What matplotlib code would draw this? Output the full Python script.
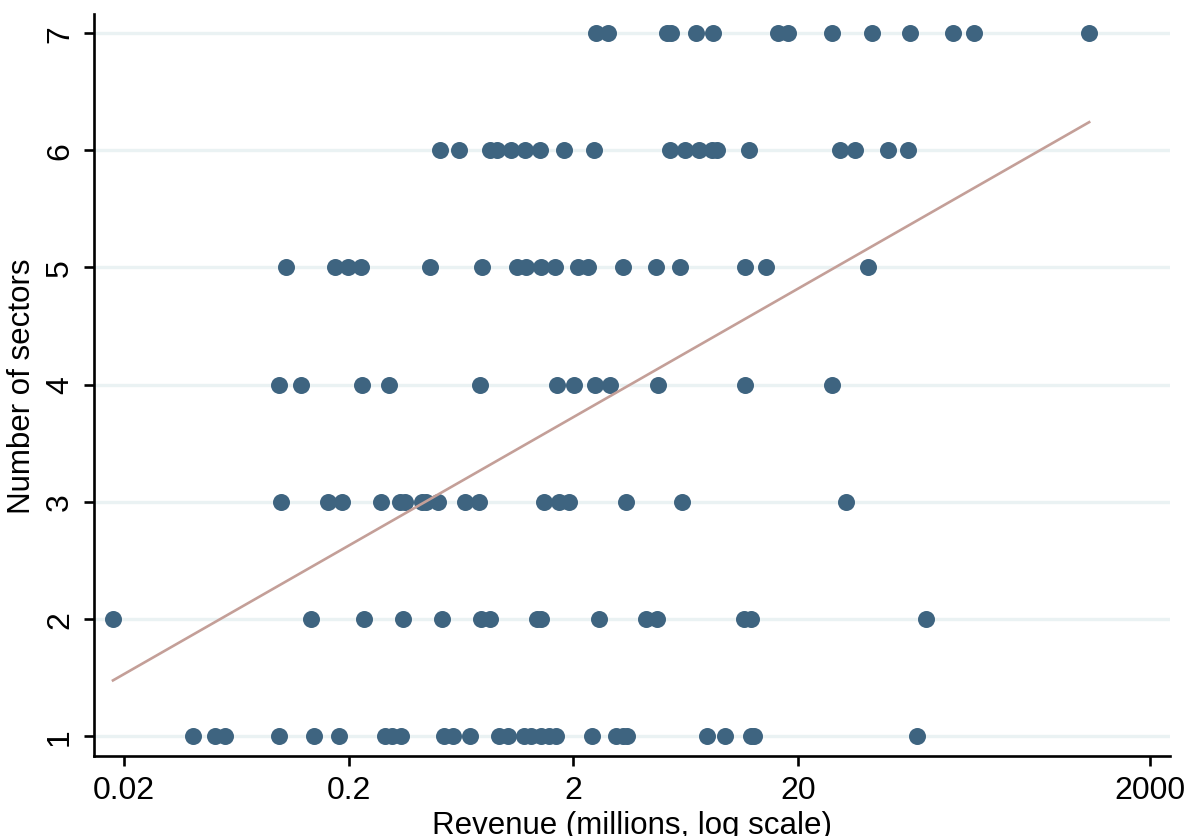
import numpy as np
import matplotlib
matplotlib.use("Agg")
import matplotlib.pyplot as plt

plt.rcParams['font.family'] = ['Liberation Sans', 'DejaVu Sans']

# revenue (millions) of each firm, grouped by its number of sectors
rev_1 = [0.0404, 0.0508, 0.0563, 0.0979, 0.1409, 0.1815, 0.2916, 0.3116, 0.3426,
         0.531, 0.584, 0.690, 0.936, 1.021, 1.206, 1.302, 1.442, 1.558, 1.674,
         2.41, 3.09, 3.31, 3.46, 7.86, 9.50, 12.29, 12.79, 67.4]
rev_2 = [0.01787, 0.1356, 0.2344, 0.3502, 0.518, 0.774, 0.853, 1.372, 1.438,
         2.61, 4.19, 4.71, 11.52, 12.34, 74.2]
rev_3 = [0.0999, 0.1626, 0.1868, 0.2794, 0.3384, 0.3562, 0.424, 0.4438, 0.501,
         0.661, 0.763, 1.484, 1.722, 1.904, 3.43, 6.06, 32.8]
rev_4 = [0.098, 0.1230, 0.2285, 0.3032, 0.772, 1.687, 2.012, 2.496, 2.914,
         4.756, 11.65, 28.3]
rev_5 = [0.1049, 0.1742, 0.1982, 0.2268, 0.4617, 0.788, 1.122, 1.237, 1.438,
         1.665, 2.097, 2.323, 3.34, 4.67, 5.99, 11.6, 14.39, 41.0]
rev_6 = [0.512, 0.619, 0.847, 0.910, 1.055, 1.218, 1.423, 1.817, 2.478, 5.41,
         6.26, 7.24, 8.26, 8.76, 12.15, 30.7, 36.0, 50.4, 62.0]
rev_7 = [2.51, 2.86, 5.22, 5.44, 7.06, 8.36, 16.3, 18.0, 28.2, 42.6, 63.0,
         97.8, 120.8, 395]

groups = [rev_1, rev_2, rev_3, rev_4, rev_5, rev_6, rev_7]
sectors = [1, 2, 3, 4, 5, 6, 7]

# linear fit of sectors on log10(revenue)
fit_intercept = 3.391
fit_slope = 1.0976

xtick_vals = [0.02, 0.2, 2, 20, 736]
xtick_labels = ['0.02', '0.2', '2', '20', '2000']

revenue = np.concatenate([np.array(g, dtype=float) for g in groups])
n_sect = np.concatenate([np.full(len(g), s) for g, s in zip(groups, sectors)])

fig = plt.figure(figsize=(11.88, 8.37), dpi=100)
ax = fig.add_axes([0.0795, 0.0956, 0.9053, 0.8865])

ax.scatter(revenue, n_sect, s=150, color='#3e6480', linewidths=0, zorder=3)

xf = np.array([revenue.min(), revenue.max()])
yf = fit_intercept + fit_slope * np.log10(xf)
ax.plot(xf, yf, color='#c49f98', lw=1.9, zorder=4)

ax.set_xscale('log')
ax.set_xlim(0.01478, 903.8)
ax.set_ylim(0.827, 7.165)

ax.set_xticks(xtick_vals)
ax.set_xticklabels(xtick_labels)
ax.minorticks_off()
ax.set_yticks(sectors)
ax.set_yticklabels([str(s) for s in sectors], rotation=90, va='center')

for s in sectors:
    ax.axhline(s, color='#eaf2f3', lw=2.4, zorder=1)

for side in ['top', 'right']:
    ax.spines[side].set_visible(False)
for side in ['left', 'bottom']:
    ax.spines[side].set_linewidth(1.9)

ax.tick_params(axis='both', direction='out', length=7, width=1.9,
               labelsize=23, pad=7)

ax.set_xlabel('Revenue (millions, log scale)', fontsize=22.5, labelpad=3)
ax.set_ylabel('Number of sectors', fontsize=22.5, labelpad=6)

fig.savefig('out.png', dpi=100)
